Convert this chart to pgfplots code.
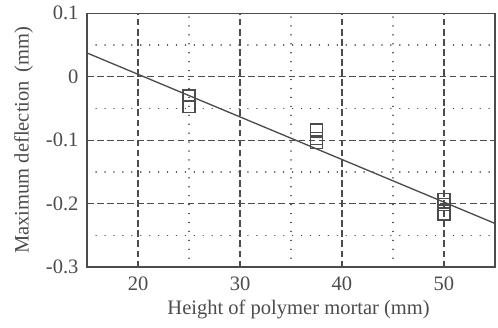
\documentclass[border=0pt]{standalone}
\usepackage{fontspec}
\setmainfont{Liberation Serif}
\usepackage{pgfplots}
\pgfplotsset{compat=1.18}
\definecolor{ink}{gray}{0.30}
\begin{document}
\begin{tikzpicture}
\begin{axis}[
  name=main,
  scale only axis,
  width=214.6pt, height=133.6pt,
  xmin=15, xmax=55, ymin=-0.3, ymax=0.1,
  xtick={20,30,40,50},
  ytick={-0.3,-0.2,-0.1,0,0.1},
  yticklabels={-0.3,-0.2,-0.1,0,0.1},
  xticklabels={20,30,40,50},
  minor x tick num=1, minor y tick num=1,
  grid=both,
  major grid style={ink, line width=0.6pt, dash pattern=on 3.5pt off 1.8pt},
  minor grid style={ink, line width=0.7pt, dash pattern=on 0.1pt off 4.6pt, line cap=round},
  major tick length=0pt, minor tick length=0pt,
  axis line style={ink, line width=0.8pt},
  tick label style={ink, font=\fontsize{10.8}{12}\selectfont},
  label style={ink, font=\fontsize{10.8}{12}\selectfont},
  xticklabel style={yshift=-1.5pt},
  yticklabel style={xshift=-1pt},
  xlabel={Height of polymer mortar (mm)},
  ylabel={Maximum deflection\, (mm)},
  xlabel style={yshift=2pt, xshift=4pt},
  ylabel style={yshift=0pt},
  clip=false,
]
% least-squares fit line
\addplot[ink, line width=0.7pt, no marks] coordinates {(15,0.0375) (55,-0.231)};
% measured deflections
\addplot[only marks, mark=square, mark size=3.1pt, ink, mark options={line width=0.8pt}]
  coordinates {
  (25,-0.030) (25,-0.047)
  (37.5,-0.084) (37.5,-0.097) (37.5,-0.104)
  (50,-0.193) (50,-0.201) (50,-0.216)
  };
\end{axis}
\path[use as bounding box] ([xshift=-45.8pt, yshift=-31.6pt]main.south west) rectangle ([xshift=1.6pt, yshift=6.8pt]main.north east);
\end{tikzpicture}
\end{document}
